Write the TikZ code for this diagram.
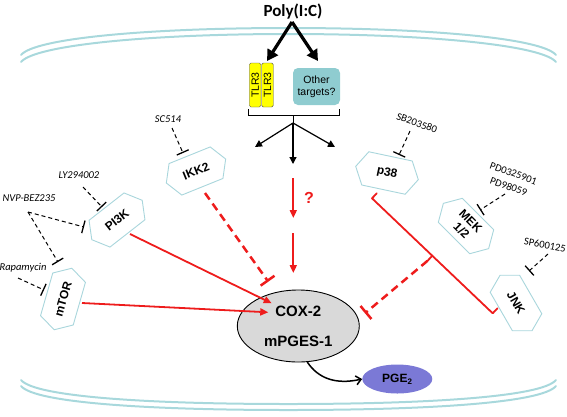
\documentclass[tikz,border=0pt]{standalone}
\usepackage{fontspec}
\setmainfont{Liberation Sans}
\newfontfamily\calfont{Carlito}
\usetikzlibrary{shapes.symbols,shapes.geometric,arrows.meta}
\definecolor{membr}{HTML}{A8D8DC}
\definecolor{hexb}{HTML}{A9D6DC}
\definecolor{tlrfill}{HTML}{FFFF00}
\definecolor{othfill}{HTML}{8FCCD0}
\definecolor{redc}{HTML}{EE1C1C}
\definecolor{coxfill}{HTML}{D9D9D9}
\definecolor{pgefill}{HTML}{7B79D6}
\tikzset{
  memline/.style={draw=membr, line width=2pt, line cap=round},
  hexa/.style={signal, signal to=east and west, signal pointer angle=120, draw=hexb, line width=0.9pt,
    fill=white, minimum width=64pt, minimum height=34pt, inner sep=1pt,
    font=\bfseries\fontsize{12}{13}\selectfont, align=center},
  inhib/.style={font=\calfont\itshape\fontsize{10.5}{11}\selectfont, inner sep=1pt},
  inhibup/.style={font=\calfont\fontsize{10.5}{14}\selectfont, inner sep=1pt, align=center},
  blkT/.style={draw=black, line width=1pt, dash pattern=on 4pt off 3pt, -{Bar[width=13pt,line width=1.3pt]}},
  redT/.style={draw=redc, line width=2.5pt, dash pattern=on 8pt off 5pt, -{Bar[width=17pt]}},
  redarr/.style={draw=redc, line width=1.8pt, -{Triangle[length=8pt,width=7pt]}},
  redline/.style={draw=redc, line width=1.8pt, line cap=round, line join=round},
  blkarr/.style={draw=black, line width=1.2pt, -{Triangle[length=7pt,width=7pt]}},
  bigarr/.style={draw=black, line width=3.2pt, -{Triangle[length=11pt,width=12pt]}},
  tlr/.style={draw=black!70, fill=tlrfill, rounded corners=1.5pt, rotate=90, minimum width=44pt,
    minimum height=11.5pt, inner sep=0pt, font=\fontsize{10.5}{11}\selectfont},
}
\begin{document}
\begin{tikzpicture}[x=1pt,y=-1pt]
\useasboundingbox (0,0) rectangle (567,416);
% membranes
\draw[memline] (21,55) .. controls (35,38) and (150,28) .. (288.5,28) .. controls (427,28) and (542,38) .. (556,55);
\draw[memline] (21,62) .. controls (35,45) and (150,34) .. (288.5,34) .. controls (427,34) and (542,45) .. (556,62);
\draw[memline] (21,380) .. controls (35,397) and (150,404) .. (288.5,404) .. controls (427,404) and (542,397) .. (556,380);
\draw[memline] (21,386) .. controls (35,403) and (150,410) .. (288.5,410) .. controls (427,410) and (542,403) .. (556,386);

% Poly(I:C)
\node[font=\calfont\bfseries\fontsize{17}{17}\selectfont, inner sep=0pt] (poly) at (293,12) {Poly(I:C)};
\coordinate (apex) at (292,22);
\coordinate (ltip) at (267,61);
\coordinate (rtip) at (318,61);
\draw[bigarr] (apex) -- (ltip);
\draw[bigarr] (apex) -- (rtip);

% receptors
\node[tlr] (tlr1) at (255.2,85) {TLR3};
\node[tlr] (tlr2) at (267.5,85) {TLR3};
\node[fill=othfill, rounded corners=5pt, minimum width=47pt, minimum height=37pt, inner sep=0pt,
  align=center, font=\fontsize{10.5}{12}\selectfont] (oth) at (316.5,86.5) {Other\\targets?};

% bracket and fan
\coordinate (bl) at (248,109);
\coordinate (br) at (339,109);
\coordinate (bc) at (293,115);
\coordinate (fan) at (293,123);
\draw[line width=0.8pt] (bl) |- (br |- bc) -- (br);
\draw[line width=0.8pt] (bc) -- (fan);
\coordinate (fl) at (255,147);
\coordinate (fm) at (293,164);
\coordinate (fr) at (335,147);
\draw[blkarr] (fan) -- (fl);
\draw[blkarr] (fan) -- (fm);
\draw[blkarr] (fan) -- (fr);

% kinases
\node[hexa, rotate=22] (ikk) at (196,171) {IKK2};
\node[hexa, rotate=38] (pi3k) at (117,220) {PI3K};
\node[hexa, rotate=74] (mtor) at (63,299) {mTOR};
\node[hexa, rotate=-12] (p38) at (387,173) {p38};
\node[hexa, rotate=-45] (mek) at (466,226) {MEK\\1/2};
\node[hexa, rotate=-60] (jnk) at (516,303) {JNK};

% COX and PGE2
\node[ellipse, draw=black, line width=0.9pt, fill=coxfill, minimum width=122pt, minimum height=72pt,
  inner sep=0pt, align=center, font=\bfseries\fontsize{15}{30}\selectfont] (cox) at (298.3,326) {COX-2\\mPGES-1};
\node[ellipse, fill=pgefill, minimum width=70pt, minimum height=29pt, inner sep=0pt,
  font=\bfseries\fontsize{12}{12}\selectfont] (pge) at (397.3,379) {PGE\textsubscript{2}};
\draw[line width=1.5pt, -{Straight Barb[length=5pt,width=9pt]}] (cox.-76) .. controls (318,378) and (335,385) .. (pge.west);

% inhibitor labels
\node[inhib] (sc) at (168,119) {SC514};
\node[inhib] (ly) at (79,175) {LY294002};
\node[inhib] (nvp) at (29,198) {NVP-BEZ235};
\node[inhib] (rapa) at (23,268) {Rapamycin};
\node[inhibup, rotate=-20] (sb) at (417,123) {SB203580};
\node[inhibup, rotate=-20] (pd) at (511,180) {PD0325901\\PD98059};
\node[inhibup, rotate=-10] (sp) at (545,245) {SP600125};

% inhibitor lines
\coordinate (sc0) at (172,128);  \coordinate (sc1) at (183,153);
\coordinate (ly0) at (83,187);   \coordinate (ly1) at (102,207);
\coordinate (nv0) at (28,212);   \coordinate (nv1) at (84,227);  \coordinate (nv2) at (58,262);
\coordinate (ra0) at (18,278);   \coordinate (ra1) at (44,290);
\coordinate (sb0) at (410,131);  \coordinate (sb1) at (399,155);
\coordinate (pd0) at (505,194);  \coordinate (pd1) at (480,210);
\coordinate (sp0) at (548,254);  \coordinate (sp1) at (529,271);
\draw[blkT] (sc0) -- (sc1);
\draw[blkT] (ly0) -- (ly1);
\draw[blkT] (nv0) -- (nv1);
\draw[blkT] (nv0) -- (nv2);
\draw[blkT] (ra0) -- (ra1);
\draw[blkT] (sb0) -- (sb1);
\draw[blkT] (pd0) -- (pd1);
\draw[blkT] (sp0) -- (sp1);

% red connections
\coordinate (pi0) at (130,234);  \coordinate (pi1) at (271.7,303.3);
\coordinate (mt0) at (82,303);   \coordinate (mt1) at (268.3,312.3);
\coordinate (ik0) at (205,193);  \coordinate (ik1) at (268.3,281.7);
\draw[redarr] (pi0) -- (pi1);
\draw[redarr] (mt0) -- (mt1);
\draw[redT] (ik0) -- (ik1);
\coordinate (q0) at (293.3,178); \coordinate (q1) at (293.3,218);
\coordinate (q2) at (293.3,233); \coordinate (q3) at (293.3,273);
\draw[redarr] (q0) -- (q1);
\draw[redarr] (q2) -- (q3);
\node[text=redc, font=\bfseries\fontsize{16}{16}\selectfont, inner sep=0pt] (qm) at (309,198) {?};

% p38 / JNK bracket
\coordinate (pb0) at (376.8,193.3); \coordinate (pb1) at (372,198.3);
\coordinate (pb2) at (492.7,313.3); \coordinate (pb3) at (497.5,308.3);
\coordinate (pm) at (432.3,255.8);  \coordinate (pt) at (427.5,260.8);
\coordinate (pc) at (365,313.3);
\draw[redline] (pb0) -- (pb1) -- (pb2) -- (pb3);
\draw[redline] (pm) -- (pt);
\draw[redT] (pt) -- (pc);
\end{tikzpicture}
\end{document}
